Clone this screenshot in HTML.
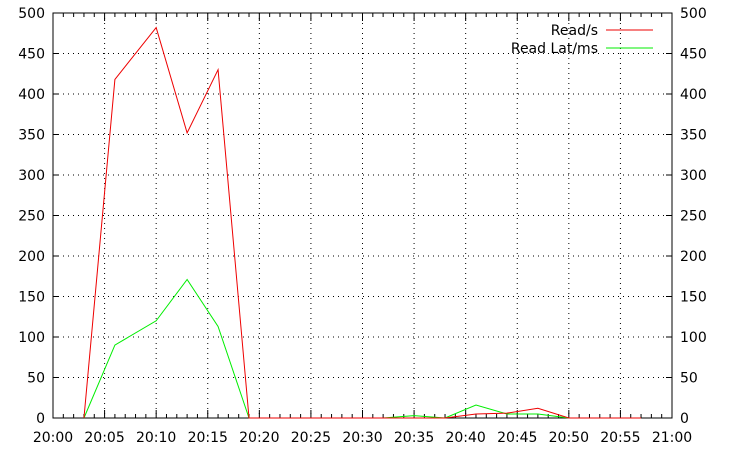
<!DOCTYPE html>
<html><head><meta charset="utf-8"><style>
body{margin:0;background:#fff;font-family:"DejaVu Sans",sans-serif}
svg text{font-family:"DejaVu Sans",sans-serif;font-size:14px;fill:#000}
</style></head><body>
<svg id="c" width="735" height="449"></svg>
<script>
const minutes=[3,6,10,13,16,19,22,25,29,32,35,38,41,44,47,50,53,57];
const readPerSec=[0,418,482,352,430,0,0,0,0,0,0,0,5,6,12,0,0,0];
const readLat=[0,90,120,171,113,0,0,0,0,0,3,0,16,5,5,0,0,0];
const yTicks=[0,50,100,150,200,250,300,350,400,450,500];
const xTickLabels=["20:00","20:05","20:10","20:15","20:20","20:25","20:30","20:35","20:40","20:45","20:50","20:55","21:00"];
const svg=document.getElementById('c');const NS='http://www.w3.org/2000/svg';
const L=53,R=672,T=13,B=418;
const xs=m=>L+(R-L)*m/60, ys=v=>B-(B-T)*v/500;
function mk(t,a,p){const e=document.createElementNS(NS,t);for(const k in a)e.setAttribute(k,a[k]);(p||svg).appendChild(e);return e;}
const grid=mk('g',{});


yTicks.forEach(v=>{const y=ys(v);
 if(v>0&&v<500)mk('line',{x1:L,x2:R,y1:y,y2:y,stroke:'#000','stroke-dasharray':'1,4','stroke-width':1},grid);
 mk('line',{x1:L,x2:L+6,y1:y,y2:y,stroke:'#000'},grid);mk('line',{x1:R-6,x2:R,y1:y,y2:y,stroke:'#000'},grid);
 const t1=mk('text',{x:L-8,y:y+5,'text-anchor':'end'});t1.textContent=v;
 
 
 const t2=mk('text',{x:R+8,y:y+5});t2.textContent=v;
 
 });
xTickLabels.forEach((lab,i)=>{const x=xs(i*5);
 if(i>0&&i<12)mk('line',{x1:x,x2:x,y1:T,y2:B,stroke:'#000','stroke-dasharray':'1,4'},grid);
 mk('line',{x1:x,x2:x,y1:B,y2:B-8,stroke:'#000'},grid);mk('line',{x1:x,x2:x,y1:T,y2:T+8,stroke:'#000'},grid);
 const t=mk('text',{x:x,y:442,'text-anchor':'middle'});t.textContent=lab;
 
 });
for(let m=0;m<=60;m++){if(m%5){const x=xs(m);mk('line',{x1:x,x2:x,y1:B,y2:B-4,stroke:'#000'},grid);mk('line',{x1:x,x2:x,y1:T,y2:T+4,stroke:'#000'},grid);}}
mk('rect',{x:L,y:T,width:R-L,height:B-T,fill:'none',stroke:'#000'});
function series(vals,col,name){const p=mk('polyline',{points:minutes.map((m,i)=>xs(m)+','+ys(vals[i])).join(' '),fill:'none',stroke:col,'stroke-width':1});
 
 }
series(readLat,'#00ee00','read-lat-line');
series(readPerSec,'#ee0000','read-per-sec-line');
const l1=mk('text',{x:598,y:35,'text-anchor':'end'});l1.textContent='Read/s';


mk('line',{x1:606,x2:653,y1:30,y2:30,stroke:'#ee0000'});
const l2=mk('text',{x:598,y:53,'text-anchor':'end'});l2.textContent='Read Lat/ms';


mk('line',{x1:606,x2:653,y1:48,y2:48,stroke:'#00ee00'});
</script></body></html>
